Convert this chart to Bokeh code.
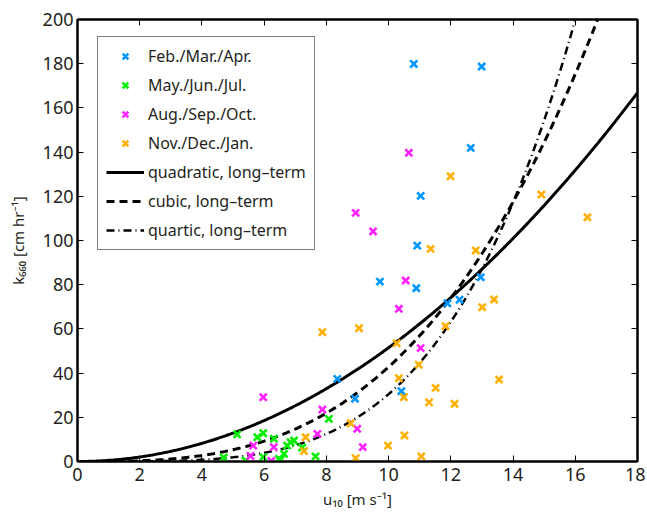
import numpy as np
from bokeh.plotting import figure
from bokeh.models import Legend, LegendItem, LinearAxis, FixedTicker, Range1d
from bokeh.embed import file_html
from bokeh.resources import INLINE

# ---- data ----
fma_u = [10.81, 12.99, 12.64, 11.03, 10.92, 9.72, 10.89, 12.96, 11.89, 12.28, 8.35, 10.41, 8.92]
fma_k = [179.9, 178.7, 141.9, 120.2, 97.7, 81.4, 78.4, 83.4, 71.6, 73.2, 37.4, 31.8, 28.4]

mjj_u = [5.13, 5.97, 5.78, 6.31, 6.85, 6.96, 6.74, 6.64, 7.22, 8.08, 7.65, 4.70, 5.40, 5.97, 6.47, 6.53]
mjj_k = [12.3, 12.8, 11.0, 10.3, 8.7, 9.5, 7.2, 3.5, 6.3, 19.3, 2.3, 1.8, 0.4, 2.0, 1.2, 0.8]

aso_u = [10.65, 8.94, 9.50, 10.55, 10.33, 11.03, 5.97, 7.87, 8.99, 7.71, 5.65, 6.31, 9.17, 5.56, 6.23]
aso_k = [139.7, 112.5, 104.1, 81.9, 69.1, 51.3, 29.1, 23.5, 14.8, 12.5, 7.2, 6.5, 6.5, 2.5, 0.3]

ndj_u = [11.99, 14.91, 16.39, 11.35, 12.80, 13.39, 13.01, 11.83, 10.26, 10.97, 10.33, 10.49, 11.51,
         11.30, 12.12, 13.55, 10.51, 9.98, 11.05, 7.87, 9.05, 8.78, 7.33, 7.28, 8.94]
ndj_k = [129.1, 120.8, 110.5, 96.2, 95.5, 73.3, 69.8, 61.2, 53.5, 43.8, 37.7, 29.1, 33.3,
         26.8, 26.1, 37.1, 11.8, 7.2, 2.3, 58.5, 60.3, 17.3, 11.0, 4.7, 1.5]

# fitted long-term relations k = c * u^n
quad_coef = 0.515
cubic_coef = 0.0428
quartic_coef = 0.00305

x_ticks = [0, 2, 4, 6, 8, 10, 12, 14, 16, 18]
y_ticks = [0, 20, 40, 60, 80, 100, 120, 140, 160, 180, 200]

labels = ["Feb./Mar./Apr.", "May./Jun./Jul.", "Aug./Sep./Oct.", "Nov./Dec./Jan.",
          "quadratic, long\u2013term", "cubic, long\u2013term", "quartic, long\u2013term"]

FONT = "Noto Sans"
TXT = "#231f20"

p = figure(width=645, height=515, x_range=Range1d(0, 18), y_range=Range1d(0, 200),
           output_backend="svg", toolbar_location=None,
           min_border_left=77, min_border_right=8, min_border_top=19, min_border_bottom=54)
p.grid.visible = False
p.outline_line_color = "black"
p.outline_line_width = 2
p.background_fill_color = "white"

for ax, ticks in ((p.xaxis[0], x_ticks), (p.yaxis[0], y_ticks)):
    ax.ticker = FixedTicker(ticks=ticks)
    ax.major_tick_in = 6
    ax.major_tick_out = 0
    ax.minor_tick_line_color = None
    ax.axis_line_width = 2
    ax.major_tick_line_width = 1
    ax.major_label_text_font = FONT
    ax.major_label_text_font_size = "18px"
    ax.major_label_text_color = TXT
    ax.axis_label_text_font = FONT
    ax.axis_label_text_font_size = "15px"
    ax.axis_label_text_font_style = "normal"
    ax.axis_label_text_color = TXT

p.xaxis.axis_label = "u\u2081\u2080 [m s\u207b\u00b9]"
p.yaxis.axis_label = "k\u2086\u2086\u2080 [cm hr\u207b\u00b9]"
p.xaxis.major_label_standoff = 6
p.xaxis.axis_label_standoff = 5
p.yaxis.major_label_standoff = 4
p.yaxis.axis_label_standoff = 12

# box ticks on top and right
for loc, ticks in (("above", x_ticks), ("right", y_ticks)):
    ax = LinearAxis(ticker=FixedTicker(ticks=ticks),
                    major_label_overrides={t: "" for t in ticks},
                    major_tick_in=6, major_tick_out=0, minor_tick_line_color=None,
                    axis_line_width=2, major_label_standoff=0)
    p.add_layout(ax, loc)

u = np.linspace(0, 18, 361)
r_q = p.line(u, quad_coef * u ** 2, line_color="black", line_width=3)
r_c = p.line(u, cubic_coef * u ** 3, line_color="black", line_width=3, line_dash="8 5")
r_4 = p.line(u, quartic_coef * u ** 4, line_color="black", line_width=2.5, line_dash="8 4 1 4")

kw = dict(marker="x", size=10, line_width=2.6)
r_b = p.scatter(fma_u, fma_k, line_color="#0096ff", **kw)
r_g = p.scatter(mjj_u, mjj_k, line_color="#00ee00", **kw)
r_m = p.scatter(aso_u, aso_k, line_color="#ff22ff", **kw)
r_o = p.scatter(ndj_u, ndj_k, line_color="#ffb000", **kw)

rends = [r_b, r_g, r_m, r_o, r_q, r_c, r_4]
legend = Legend(items=[LegendItem(label=l, renderers=[r]) for l, r in zip(labels, rends)],
                location=(20, 211), label_text_font=FONT, label_text_font_size="16px",
                label_text_color=TXT, glyph_width=38, glyph_height=20, label_height=20,
                spacing=7, padding=8, label_standoff=4, margin=0,
                border_line_color="black", border_line_width=1.5,
                background_fill_color="white", background_fill_alpha=1)
p.add_layout(legend)

open("out.html", "w").write(file_html(p, INLINE))
